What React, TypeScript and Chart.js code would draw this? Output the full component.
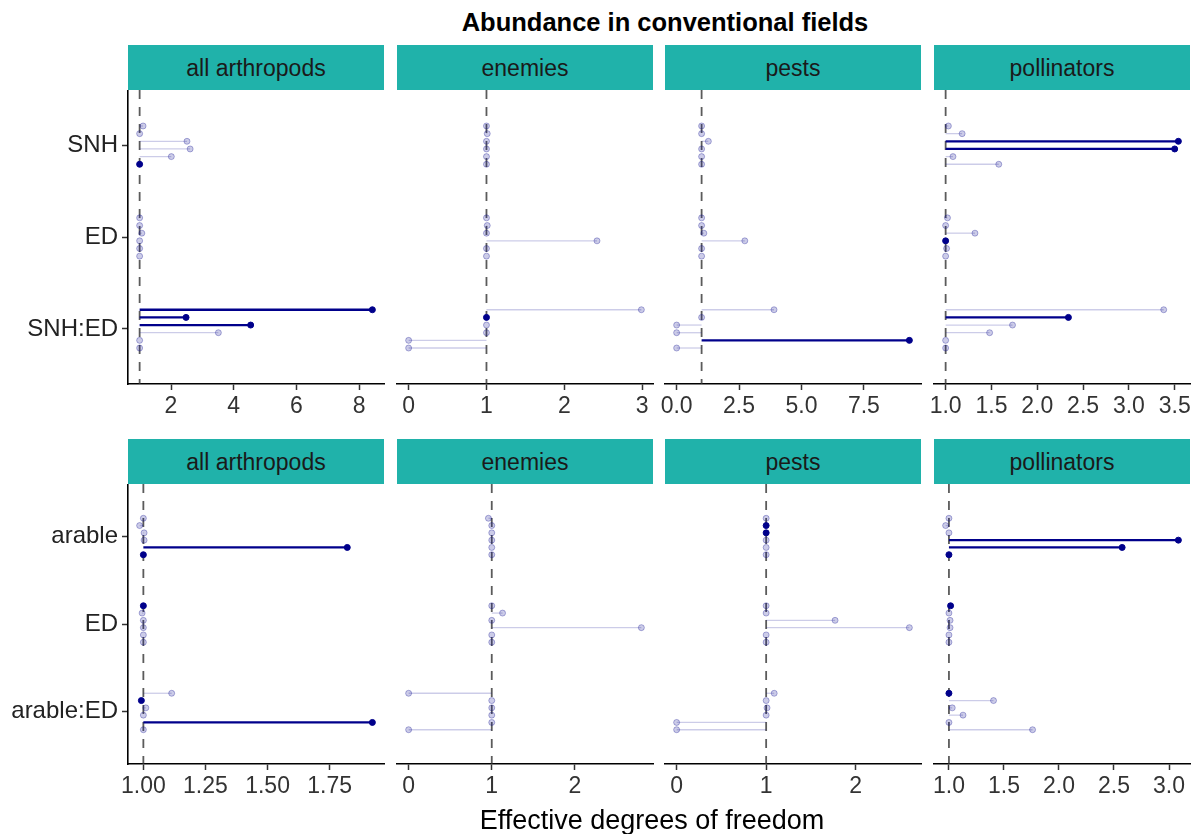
import React, { useEffect, useRef } from "react";
import { Chart, registerables } from "chart.js";

Chart.register(...registerables);

const FONT = "'Liberation Sans', Arial, Helvetica, sans-serif";

const TITLE = "Abundance in conventional fields";
const X_TITLE = "Effective degrees of freedom";
const GROUPS = ["all arthropods", "enemies", "pests", "pollinators"];
const TOP_TERMS = ["SNH", "ED", "SNH:ED"];
const BOTTOM_TERMS = ["arable", "ED", "arable:ED"];

// effective degrees of freedom: [term][model variant], variants listed top to bottom
const topAllValues = [
  [1.11, 1.0, 2.51, 2.61, 2.01, 1.0],
  [1.0, 1.0, 1.07, 1.0, 1.0, 1.0],
  [8.42, 2.48, 4.54, 3.51, 1.0, 1.0],
];
const topAllSignificant = [
  [0, 0, 0, 0, 0, 1],
  [0, 0, 0, 0, 0, 0],
  [1, 1, 1, 0, 0, 0],
];
const topEnemiesValues = [
  [1.0, 1.01, 1.0, 1.0, 1.0, 1.0],
  [1.0, 1.01, 1.0, 2.42, 1.0, 1.0],
  [2.99, 1.0, 1.0, 1.0, 0.0, 0.0],
];
const topEnemiesSignificant = [
  [0, 0, 0, 0, 0, 0],
  [0, 0, 0, 0, 0, 0],
  [0, 1, 0, 0, 0, 0],
];
const topPestsValues = [
  [1.0, 1.0, 1.27, 1.0, 1.0, 1.0],
  [1.0, 1.0, 1.09, 2.73, 1.0, 1.0],
  [3.9, 1.0, 0.0, 0.0, 9.32, 0.0],
];
const topPestsSignificant = [
  [0, 0, 0, 0, 0, 0],
  [0, 0, 0, 0, 0, 0],
  [0, 0, 0, 0, 1, 0],
];
const topPollinatorsValues = [
  [1.03, 1.18, 3.54, 3.5, 1.08, 1.58],
  [1.02, 1.0, 1.32, 1.0, 1.01, 1.0],
  [3.38, 2.34, 1.73, 1.48, 1.0, 1.0],
];
const topPollinatorsSignificant = [
  [0, 0, 1, 1, 0, 0],
  [0, 0, 0, 1, 0, 0],
  [0, 1, 0, 0, 0, 0],
];

const bottomAllValues = [
  [1.0, 0.985, 1.003, 1.003, 1.821, 1.0],
  [1.0, 0.995, 1.0, 1.0, 1.0, 1.0],
  [1.114, 0.992, 1.01, 1.0, 1.922, 1.0],
];
const bottomAllSignificant = [
  [0, 0, 0, 0, 1, 1],
  [1, 0, 0, 0, 0, 0],
  [0, 1, 0, 0, 1, 0],
];
const bottomEnemiesValues = [
  [0.96, 1.0, 1.0, 1.0, 1.0, 1.0],
  [1.0, 1.13, 1.0, 2.8, 1.0, 1.0],
  [0.0, 1.0, 1.0, 1.0, 1.0, 0.0],
];
const bottomEnemiesSignificant = [
  [0, 0, 0, 0, 0, 0],
  [0, 0, 0, 0, 0, 0],
  [0, 0, 0, 0, 0, 0],
];
const bottomPestsValues = [
  [1.0, 1.0, 1.0, 1.0, 1.0, 1.0],
  [1.0, 1.0, 1.77, 2.6, 1.0, 1.0],
  [1.09, 1.0, 1.01, 1.0, 0.0, 0.0],
];
const bottomPestsSignificant = [
  [0, 1, 1, 0, 0, 0],
  [0, 0, 0, 0, 0, 0],
  [0, 0, 0, 0, 0, 0],
];
const bottomPollinatorsValues = [
  [1.0, 0.97, 1.0, 3.085, 2.574, 1.0],
  [1.015, 1.0, 1.01, 1.01, 1.0, 1.0],
  [1.0, 1.405, 1.03, 1.128, 1.0, 1.76],
];
const bottomPollinatorsSignificant = [
  [0, 0, 0, 1, 1, 1],
  [1, 0, 0, 0, 0, 0],
  [1, 0, 0, 0, 0, 0],
];

const topTicks = [[2, 4, 6, 8], [0, 1, 2, 3], [0, 2.5, 5, 7.5], [1, 1.5, 2, 2.5, 3, 3.5]];
const topTickDecimals = [0, 0, 1, 1];
const bottomTicks = [[1, 1.25, 1.5, 1.75], [0, 1, 2], [0, 1, 2], [1, 1.5, 2, 2.5, 3]];
const bottomTickDecimals = [2, 0, 0, 1];

const topValues = [topAllValues, topEnemiesValues, topPestsValues, topPollinatorsValues];
const topSignificant = [topAllSignificant, topEnemiesSignificant, topPestsSignificant, topPollinatorsSignificant];
const bottomValues = [bottomAllValues, bottomEnemiesValues, bottomPestsValues, bottomPollinatorsValues];
const bottomSignificant = [bottomAllSignificant, bottomEnemiesSignificant, bottomPestsSignificant, bottomPollinatorsSignificant];

// layout
const COL_LEFT = [128, 397, 665, 934];
const PLOT_W = 256;
const STRIP_H = 45;
const ROWS = [
  { stripTop: 45, plotTop: 90, plotH: 294 },
  { stripTop: 439, plotTop: 484, plotH: 280 },
];
const AXIS_H = 60;
const PAD_L = 14;
const PAD_R = 14;

const DARK = "#00008B";
const LIGHT = "rgba(0,0,139,0.2)";
const LIGHT_EDGE = "rgba(0,0,139,0.3)";
const STRIP_BG = "#20B2AA";

type PanelProps = {
  values: number[][];
  significant: number[][];
  terms: string[];
  ticks: number[];
  decimals: number;
  col: number;
  row: number;
};

function Panel({ values, significant, terms, ticks, decimals, col, row }: PanelProps) {
  const ref = useRef<HTMLCanvasElement>(null);
  const showY = col === 0;
  const left = showY ? 0 : COL_LEFT[col] - PAD_L;
  const width = (showY ? COL_LEFT[0] : PAD_L) + PLOT_W + PAD_R;
  const { plotTop, plotH } = ROWS[row];
  const height = plotH + AXIS_H;

  useEffect(() => {
    if (!ref.current) return;
    const flat = values.flat();
    const lo = Math.min(1, ...flat);
    const hi = Math.max(1, ...flat);
    const pad = (hi - lo) * 0.05;

    const datasets: any[] = [];
    values.forEach((termVals, t) =>
      termVals.forEach((v, i) => {
        const y = t + 1 + (i - 2.5) / 12;
        const sig = significant[t][i] === 1;
        datasets.push({
          type: "line",
          data: [
            { x: 1, y },
            { x: v, y },
          ],
          borderColor: sig ? DARK : LIGHT,
          borderWidth: sig ? 2.3 : 1.3,
          pointRadius: [0, 3],
          pointBackgroundColor: sig ? DARK : LIGHT,
          pointBorderColor: sig ? DARK : LIGHT_EDGE,
          pointBorderWidth: 1,
          order: sig ? 0 : 1,
          clip: 8,
        });
      })
    );
    datasets.push({
      type: "line",
      data: [
        { x: 1, y: 0.4 },
        { x: 1, y: 3.6 },
      ],
      borderColor: "rgba(50,50,50,0.8)",
      borderWidth: 1.8,
      borderDash: [9, 8],
      pointRadius: 0,
      order: 2,
    });

    const chart = new Chart(ref.current, {
      type: "line",
      data: { datasets },
      options: {
        animation: false,
        responsive: false,
        events: [],
        layout: { autoPadding: false, padding: { left: showY ? 0 : PAD_L, right: PAD_R, top: 0, bottom: 0 } },
        plugins: { legend: { display: false }, tooltip: { enabled: false }, title: { display: false } },
        scales: {
          x: {
            type: "linear",
            min: lo - pad,
            max: hi + pad,
            afterBuildTicks: (scale: any) => {
              scale.ticks = ticks.map((v) => ({ value: v }));
            },
            afterFit: (scale: any) => {
              scale.height = AXIS_H;
              scale.paddingLeft = 0;
              scale.paddingRight = 0;
              scale.paddingTop = 0;
              scale.paddingBottom = 0;
            },
            grid: {
              drawOnChartArea: false,
              drawTicks: true,
              tickLength: 6,
              tickColor: "#333",
              tickWidth: 1.5,
            },
            border: { display: true, color: "#000", width: 1.6 },
            ticks: {
              autoSkip: false,
              maxRotation: 0,
              minRotation: 0,
              padding: 3,
              color: "#333",
              font: { family: FONT, size: 23 },
              callback: (v: any) => Number(v).toFixed(decimals),
            },
          },
          y: {
            type: "linear",
            display: showY,
            min: 0.4,
            max: 3.6,
            reverse: true,
            afterBuildTicks: (scale: any) => {
              scale.ticks = terms.map((_, k) => ({ value: k + 1 }));
            },
            afterFit: (scale: any) => {
              if (showY) scale.width = COL_LEFT[0];
              scale.paddingTop = 0;
              scale.paddingBottom = 0;
              scale.paddingLeft = 0;
              scale.paddingRight = 0;
            },
            grid: {
              drawOnChartArea: false,
              drawTicks: true,
              tickLength: 6,
              tickColor: "#333",
              tickWidth: 1.5,
            },
            border: { display: true, color: "#000", width: 1.6 },
            ticks: {
              autoSkip: false,
              padding: 4,
              color: "#222",
              font: { family: FONT, size: 24 },
              callback: (v: any) => terms[Math.round(Number(v)) - 1] ?? "",
            },
          },
        },
      } as any,
    });
    return () => chart.destroy();
  }, []);

  return (
    <canvas
      ref={ref}
      width={width}
      height={height}
      style={{ position: "absolute", left, top: plotTop, width, height, display: "block" }}
    />
  );
}

function Strip({ label, col, row }: { label: string; col: number; row: number }) {
  return (
    <div
      style={{
        position: "absolute",
        left: COL_LEFT[col],
        top: ROWS[row].stripTop,
        width: PLOT_W,
        height: STRIP_H,
        boxSizing: "border-box",
        paddingTop: 2,
        background: STRIP_BG,
        color: "#1a1a1a",
        fontFamily: FONT,
        fontSize: 23,
        lineHeight: `${STRIP_H - 2}px`,
        textAlign: "center",
        whiteSpace: "nowrap",
      }}
    >
      {label}
    </div>
  );
}

export default function App() {
  const titleCenter = 665;
  const xTitleCenter = 652;
  return (
    <div
      style={{
        position: "absolute",
        left: 0,
        top: 0,
        width: 1199,
        height: 834,
        background: "#fff",
        overflow: "hidden",
      }}
    >
      <div
        style={{
          position: "absolute",
          left: titleCenter - 400,
          width: 800,
          top: 8,
          textAlign: "center",
          fontFamily: FONT,
          fontWeight: "bold",
          fontSize: 25.5,
          lineHeight: "28px",
          color: "#000",
        }}
      >
        {TITLE}
      </div>
      {GROUPS.map((g, c) => (
        <Strip key={"t" + c} label={g} col={c} row={0} />
      ))}
      {GROUPS.map((g, c) => (
        <Strip key={"b" + c} label={g} col={c} row={1} />
      ))}
      {GROUPS.map((_, c) => (
        <Panel
          key={"pt" + c}
          values={topValues[c]}
          significant={topSignificant[c]}
          terms={TOP_TERMS}
          ticks={topTicks[c]}
          decimals={topTickDecimals[c]}
          col={c}
          row={0}
        />
      ))}
      {GROUPS.map((_, c) => (
        <Panel
          key={"pb" + c}
          values={bottomValues[c]}
          significant={bottomSignificant[c]}
          terms={BOTTOM_TERMS}
          ticks={bottomTicks[c]}
          decimals={bottomTickDecimals[c]}
          col={c}
          row={1}
        />
      ))}
      <div
        style={{
          position: "absolute",
          left: xTitleCenter - 400,
          width: 800,
          top: 803,
          textAlign: "center",
          fontFamily: FONT,
          fontSize: 27,
          lineHeight: "34px",
          color: "#000",
        }}
      >
        {X_TITLE}
      </div>
    </div>
  );
}
